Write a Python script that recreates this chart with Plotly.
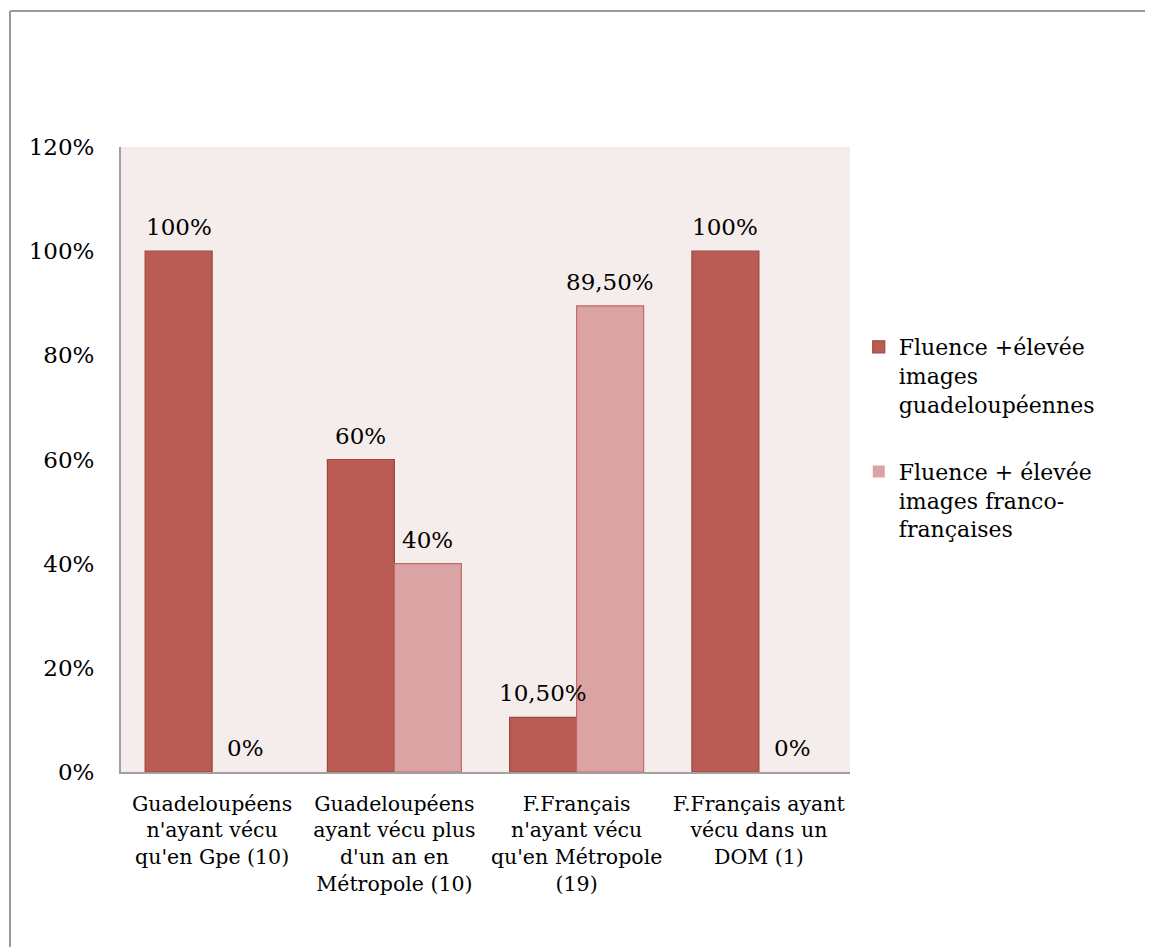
import plotly.graph_objects as go

categories = [
    "Guadeloupéens<br>n'ayant vécu<br>qu'en Gpe (10)",
    "Guadeloupéens<br>ayant vécu plus<br>d'un an en<br>Métropole (10)",
    "F.Français<br>n'ayant vécu<br>qu'en Métropole<br>(19)",
    "F.Français ayant<br>vécu dans un<br>DOM (1)",
]
series_names = [
    "Fluence +élevée<br>images<br>guadeloupéennes",
    "Fluence + élevée<br>images franco-<br>françaises",
]
guad_values = [1.00, 0.60, 0.105, 1.00]
franco_values = [0.00, 0.40, 0.895, 0.00]
guad_labels = ["100%", "60%", "10,50%", "100%"]
franco_labels = ["0%", "40%", "89,50%", "0%"]
y_tickvals = [0, 0.2, 0.4, 0.6, 0.8, 1.0, 1.2]
y_ticktext = ["0%", "20%", "40%", "60%", "80%", "100%", "120%"]

FONT = "DejaVu Serif"
W, H = 1145, 939
ML, MR, MT, MB = 113, 303, 139, 175
BARGAP = 0.265
plot_w = W - ML - MR
plot_h = H - MT - MB
bar_px = (1 - BARGAP) / 2 * plot_w / len(categories)

fig = go.Figure()
series = [
    (series_names[0], guad_values, guad_labels, "#BA5B54", "#9E4640", -1),
    (series_names[1], franco_values, franco_labels, "#DBA3A3", "#C06A66", 1),
]
annotations = []
for i, (name, vals, labels, col, lcol, side) in enumerate(series):
    fig.add_trace(go.Bar(
        name=name, x=categories, y=vals, legendgroup=f"g{i}",
        marker=dict(color=col, line=dict(color=lcol, width=[0 if v == 0 else 1.2 for v in vals])),
    ))
    for c, v, t in zip(categories, vals, labels):
        annotations.append(dict(
            x=c, y=v, xref="x", yref="y", text=t, showarrow=False,
            xanchor="center", yanchor="bottom", xshift=side * bar_px / 2, yshift=9,
            font=dict(family=FONT, size=23, color="#000000"),
        ))

bx0 = -(ML - 2) / plot_w
by1 = 1 + (MT - 3) / plot_h
border = dict(color="#9A9A9A", width=2)

fig.update_layout(
    width=W, height=H,
    margin=dict(l=ML, r=MR, t=MT, b=MB),
    paper_bgcolor="#FFFFFF",
    plot_bgcolor="#F5EDEB",
    barmode="group", bargap=BARGAP, bargroupgap=0,
    font=dict(family=FONT, size=21, color="#000000"),
    showlegend=True,
    legend=dict(
        x=1.012, y=0.7136, xanchor="left", yanchor="top",
        valign="top", tracegroupgap=36, itemwidth=30,
        font=dict(family=FONT, size=22, color="#000000"),
        bgcolor="rgba(0,0,0,0)",
    ),
    xaxis=dict(
        showline=True, linecolor="#A0A0A0", linewidth=2,
        showgrid=False, ticks="outside", ticklen=12, tickcolor="rgba(0,0,0,0)",
        tickfont=dict(family=FONT, size=20.5, color="#000000"),
        tickangle=0,
    ),
    yaxis=dict(
        range=[0, 1.2], tickvals=y_tickvals, ticktext=y_ticktext,
        showline=True, linecolor="#A0A0A0", linewidth=2,
        showgrid=False, zeroline=False,
        ticks="outside", ticklen=20, tickcolor="rgba(0,0,0,0)",
        tickfont=dict(family=FONT, size=23, color="#000000"),
    ),
    annotations=annotations,
    shapes=[
        dict(type="line", xref="paper", yref="paper",
             x0=bx0, x1=1.6, y0=by1, y1=by1, line=border, layer="above"),
        dict(type="line", xref="paper", yref="paper",
             x0=bx0, x1=bx0, y0=-0.5, y1=by1, line=border, layer="above"),
    ],
)

fig.write_html("out.html")
